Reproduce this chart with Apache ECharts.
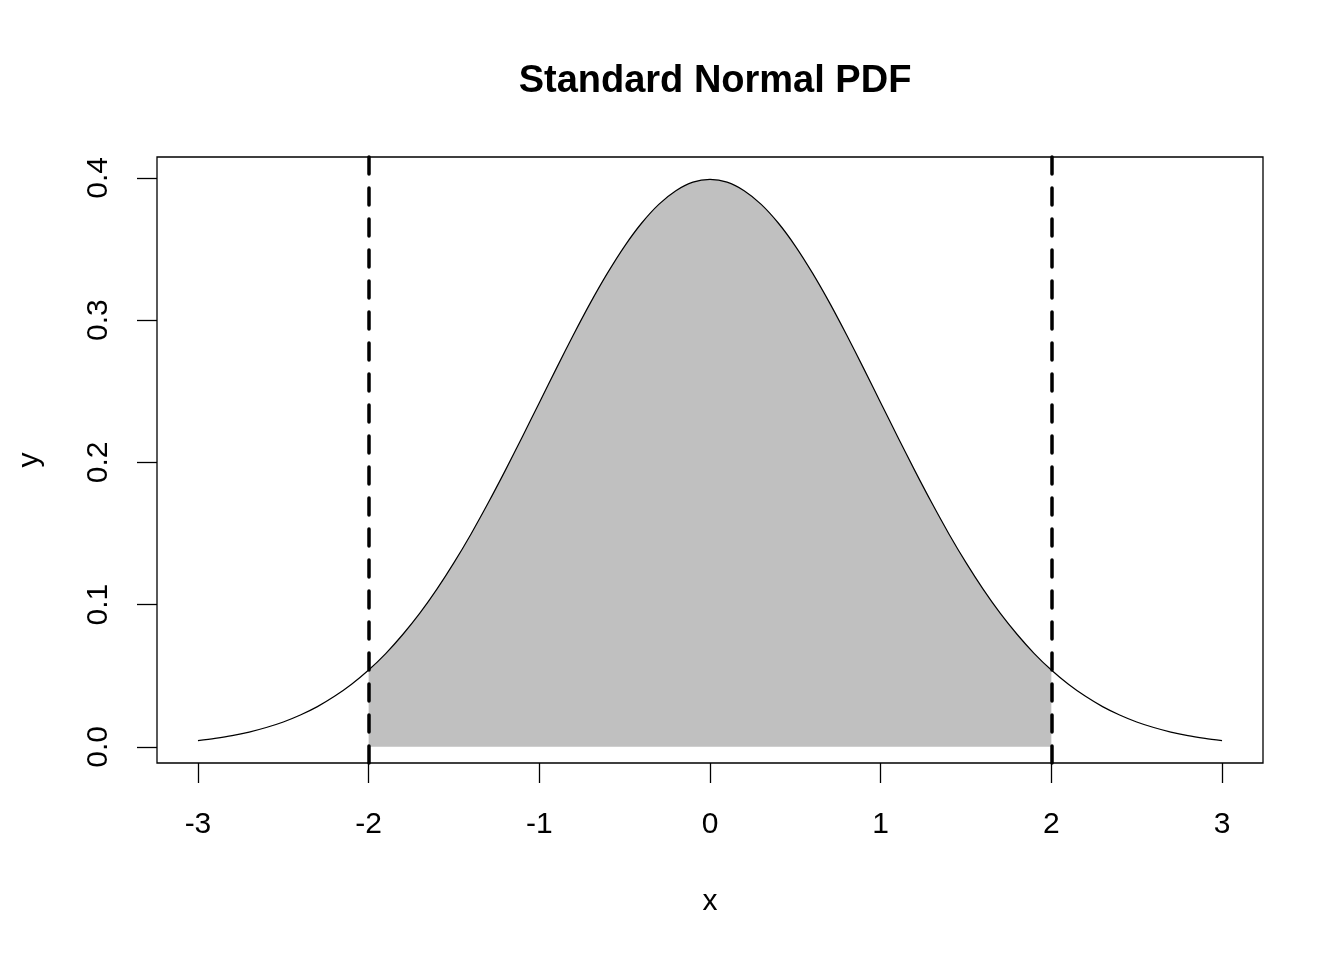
<!DOCTYPE html>
<html>
<head>
<meta charset="utf-8">
<script src="https://cdn.jsdelivr.net/npm/echarts@6/dist/echarts.min.js"></script>
<style>
  html, body { margin: 0; padding: 0; background: #fff; }
  #chart { width: 1344px; height: 960px; }
</style>
</head>
<body>
<div id="chart"></div>
<script>
// Standard normal density at steps of 0.1
var xs = [-3.0, -2.9, -2.8, -2.7, -2.6, -2.5, -2.4, -2.3, -2.2, -2.1,
          -2.0, -1.9, -1.8, -1.7, -1.6, -1.5, -1.4, -1.3, -1.2, -1.1,
          -1.0, -0.9, -0.8, -0.7, -0.6, -0.5, -0.4, -0.3, -0.2, -0.1,
           0.0,  0.1,  0.2,  0.3,  0.4,  0.5,  0.6,  0.7,  0.8,  0.9,
           1.0,  1.1,  1.2,  1.3,  1.4,  1.5,  1.6,  1.7,  1.8,  1.9,
           2.0,  2.1,  2.2,  2.3,  2.4,  2.5,  2.6,  2.7,  2.8,  2.9, 3.0];
var ys = [0.0044, 0.0060, 0.0079, 0.0104, 0.0136, 0.0175, 0.0224, 0.0283, 0.0355, 0.0440,
          0.0540, 0.0656, 0.0790, 0.0940, 0.1109, 0.1295, 0.1497, 0.1714, 0.1942, 0.2179,
          0.2420, 0.2661, 0.2897, 0.3123, 0.3332, 0.3521, 0.3683, 0.3814, 0.3910, 0.3970,
          0.3989, 0.3970, 0.3910, 0.3814, 0.3683, 0.3521, 0.3332, 0.3123, 0.2897, 0.2661,
          0.2420, 0.2179, 0.1942, 0.1714, 0.1497, 0.1295, 0.1109, 0.0940, 0.0790, 0.0656,
          0.0540, 0.0440, 0.0355, 0.0283, 0.0224, 0.0175, 0.0136, 0.0104, 0.0079, 0.0060, 0.0044];
var shadeFrom = -2, shadeTo = 2;
var cutoffs = [-2, 2];
var xTicks = [-3, -2, -1, 0, 1, 2, 3];
var yTicks = [0, 0.1, 0.2, 0.3, 0.4];

var font = 'Liberation Sans, Arial, Helvetica, sans-serif';

var curve = xs.map(function(x, i) { return [x, ys[i]]; });
var shaded = curve.filter(function(p) { return p[0] >= shadeFrom - 1e-9 && p[0] <= shadeTo + 1e-9; });

var chart = echarts.init(document.getElementById('chart'), null, { renderer: 'canvas' });
chart.setOption({
  animation: false,
  backgroundColor: '#fff',
  title: {
    text: 'Standard Normal PDF',
    left: 710, top: 58, textAlign: 'center',
    textStyle: { fontFamily: font, fontSize: 38, fontWeight: 'bold', color: '#000' }
  },
  grid: {
    left: 157, right: 81, top: 157, bottom: 197,
    show: true, borderColor: '#000', borderWidth: 1.3, backgroundColor: 'transparent'
  },
  xAxis: {
    type: 'value', min: -3.24, max: 3.24,
    name: 'x', nameLocation: 'middle', nameGap: 124,
    nameTextStyle: { fontFamily: font, fontSize: 30, color: '#000' },
    axisLine: { show: false, onZero: false },
    splitLine: { show: false },
    axisTick: { show: true, inside: false, length: 20, customValues: xTicks,
                lineStyle: { color: '#000', width: 1.3 } },
    axisLabel: { customValues: xTicks, margin: 47, fontFamily: font, fontSize: 30, color: '#000' }
  },
  yAxis: {
    type: 'value', min: -0.01135, max: 0.4147,
    name: 'y', nameLocation: 'middle', nameGap: 112, nameRotate: 90,
    nameTextStyle: { fontFamily: font, fontSize: 30, color: '#000' },
    axisLine: { show: false, onZero: false },
    splitLine: { show: false },
    axisTick: { show: true, inside: false, length: 20, customValues: yTicks,
                lineStyle: { color: '#000', width: 1.3 } },
    axisLabel: { customValues: yTicks, margin: 43, rotate: 90, fontFamily: font, fontSize: 30, color: '#000',
                 formatter: function(v) { return v.toFixed(1); } }
  },
  series: [
    {
      type: 'line', data: shaded, symbol: 'none', silent: true, z: 1, smooth: 0.3,
      lineStyle: { width: 0, opacity: 0 },
      areaStyle: { color: '#C0C0C0', opacity: 1, origin: 0 }
    },
    {
      type: 'line', data: curve, symbol: 'none', silent: true, z: 3, smooth: 0.3,
      lineStyle: { color: '#000', width: 1.2 }
    },
    {
      type: 'line', data: [], symbol: 'none', silent: true, z: 4,
      markLine: {
        silent: true, symbol: 'none', label: { show: false },
        lineStyle: { color: '#000', width: 3.5, type: [17, 14], cap: 'round' },
        data: cutoffs.map(function(c) { return { xAxis: c }; })
      }
    }
  ]
});
</script>
</body>
</html>
